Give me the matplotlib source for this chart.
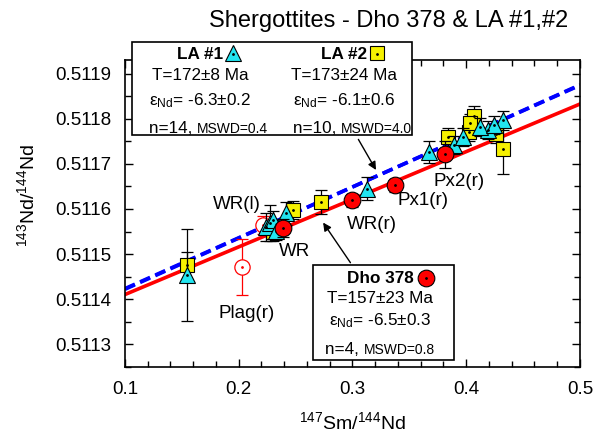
import numpy as np
import matplotlib
matplotlib.use("Agg")
import matplotlib.pyplot as plt
from matplotlib.lines import Line2D
from matplotlib.patches import Rectangle
from matplotlib.ticker import MultipleLocator, FormatStrFormatter

plt.rcParams.update({
    "font.family": ["Liberation Sans", "DejaVu Sans"],
    "mathtext.fontset": "custom",
    "mathtext.rm": "Liberation Sans",
    "mathtext.it": "Liberation Sans:italic",
    "mathtext.bf": "Liberation Sans:bold",
    "axes.linewidth": 1.2,
})

# LA #1 (triangles)
la1_x = [0.1541, 0.2243, 0.2272, 0.2418, 0.3126, 0.3675, 0.3895, 0.3968,
         0.4187, 0.4319, 0.2300, 0.2330, 0.4120, 0.4240]
la1_y = [0.511453, 0.511560, 0.511568, 0.511590, 0.511645, 0.511726, 0.511741,
         0.511759, 0.511774, 0.511796, 0.511575, 0.511552, 0.511782, 0.511786]
la1_err = [0.000102, 0.00003, 0.00004, 0.000025, 0.000025, 0.000025, 0.00002,
           0.00002, 0.00002, 0.00002, 0.00002, 0.00002, 0.00002, 0.00002]

# LA #2 (squares)
la2_x = [0.1541, 0.2298, 0.2477, 0.2725, 0.3836, 0.4026, 0.4070, 0.4260,
         0.4319, 0.4035]
la2_y = [0.511475, 0.511548, 0.511598, 0.511615, 0.511759, 0.511770, 0.511807,
         0.511767, 0.511733, 0.511790]
la2_err = [0.00003, 0.00002, 0.00002, 0.000027, 0.00002, 0.00002, 0.000022,
           0.00002, 0.000055, 0.00002]

# Dho 378 (filled red circles)
dho_labels = ["WR", "WR(r)", "Px1(r)", "Px2(r)"]
dho_x = [0.2386, 0.3000, 0.3377, 0.3816]
dho_y = [0.511557, 0.511619, 0.511652, 0.511721]
dho_err = [0.00002, 0.000015, 0.000015, 0.00003]

# excluded fractions (open red circles)
open_labels = ["WR(l)", "Plag(r)"]
open_x = [0.2210, 0.2025]
open_y = [0.511564, 0.5114715]
open_err = [0.00002, 0.000063]

# isochrons: intercept, slope
iso_la1 = (0.511311, 0.001126)
iso_la2 = (0.511309, 0.001132)
iso_dho = (0.511305, 0.001055)

fig = plt.figure(figsize=(5.94, 4.36), dpi=100)
ax = fig.add_axes([0.2104, 0.1583, 0.7660, 0.7041])

xs = np.array([0.1, 0.5])
ax.plot(xs, iso_dho[0] + iso_dho[1] * xs, color="#ff0000", lw=2.6, zorder=1)
for icpt, slope in (iso_la1, iso_la2):
    ax.plot(xs, icpt + slope * xs, color="#0000ff", lw=2.6, ls=(0, (3, 1.6)), zorder=1.5)

ebar = dict(fmt="none", ecolor="black", elinewidth=0.9, capsize=4, capthick=0.9)
ax.errorbar(la2_x, la2_y, yerr=la2_err, zorder=2, **ebar)
ax.plot(la2_x, la2_y, "s", ms=10, mfc="#f5f000", mec="black", mew=0.8, zorder=3)
ax.plot(la2_x, la2_y, ".", ms=2, color="black", zorder=3.1)
ax.errorbar(la1_x, la1_y, yerr=la1_err, zorder=3.2, **ebar)
ax.plot(la1_x, la1_y, "^", ms=12, mfc="#22e5f0", mec="black", mew=0.8, zorder=4)
ax.plot(la1_x, la1_y, ".", ms=2, color="black", zorder=4.1)
ax.errorbar(open_x, open_y, yerr=open_err, fmt="none", ecolor="#ff0000",
            elinewidth=0.9, capsize=4, capthick=0.9, zorder=2.5)
ax.plot(open_x, open_y, "o", ms=11, mfc="white", mec="#ff0000", mew=0.9, zorder=2.6)
ax.plot(open_x, open_y, ".", ms=2, color="#ff0000", zorder=2.7)
ax.errorbar(dho_x, dho_y, yerr=dho_err, zorder=4.5, **ebar)
ax.plot(dho_x, dho_y, "o", ms=12, mfc="#ff0000", mec="black", mew=0.8, zorder=5)
ax.plot(dho_x, dho_y, ".", ms=2, color="black", zorder=5.1)

lab_fs = 13.5
label_pos = {
    "WR": (0.249, 0.511505),
    "WR(r)": (0.3167, 0.511566),
    "Px1(r)": (0.3617, 0.511619),
    "Px2(r)": (0.3939, 0.511660),
    "WR(l)": (0.198, 0.511610),
    "Plag(r)": (0.2067, 0.511368),
}
for name, (tx, ty) in label_pos.items():
    ax.text(tx, ty, name, fontsize=lab_fs, ha="center", va="center", zorder=6)

ax.set_xlim(0.1, 0.5)
ax.set_ylim(0.51125, 0.51193)
ax.xaxis.set_major_locator(MultipleLocator(0.1))
ax.xaxis.set_minor_locator(MultipleLocator(0.02))
ax.yaxis.set_major_locator(MultipleLocator(0.0001))
ax.yaxis.set_minor_locator(MultipleLocator(0.00005))
ax.xaxis.set_major_formatter(FormatStrFormatter("%.1f"))
ax.yaxis.set_major_formatter(FormatStrFormatter("%.4f"))
ax.tick_params(which="both", direction="in", top=True, right=True,
               labelsize=13.5, width=1.0)
ax.tick_params(which="major", length=6, pad=10)
ax.tick_params(which="minor", length=4)
ax.set_xlabel(r"$^{147}$Sm/$^{144}$Nd", fontsize=14)
ax.set_ylabel(r"$^{143}$Nd/$^{144}$Nd", fontsize=14)
ax.xaxis.set_label_coords(0.5, -0.145)
ax.yaxis.set_label_coords(-0.19, 0.56)

fig.text(0.655, 0.952, "Shergottites - Dho 378 & LA #1,#2", fontsize=17,
         ha="center", va="center")

# LA box
fig.add_artist(Rectangle((0.2217, 0.6904), 0.4714, 0.2140, transform=fig.transFigure,
                         facecolor="white", edgecolor="black", lw=1.2, zorder=10))
box_fs = 12.3
small_fs = 10
for cx, name, mk, mc, T, eps, n, mswd in [
        (0.3367, "LA #1", "^", "#22e5f0", "T=172\u00b18 Ma", "-6.3\u00b10.2", "n=14, ", "MSWD=0.4"),
        (0.5790, "LA #2", "s", "#f5f000", "T=173\u00b124 Ma", "-6.1\u00b10.6", "n=10, ", "MSWD=4.0")]:
    fig.text(cx, 0.874, name, fontsize=box_fs, fontweight="bold", ha="center",
             va="center", zorder=11)
    fig.add_artist(Line2D([cx + 0.055], [0.878], marker=mk, ms=12 if mk == "^" else 10,
                          mfc=mc, mec="black", mew=0.8, transform=fig.transFigure,
                          zorder=11))
    fig.add_artist(Line2D([cx + 0.055], [0.876], marker=".", ms=2, color="black",
                          transform=fig.transFigure, zorder=12))
    fig.text(cx, 0.826, T, fontsize=box_fs, ha="center", va="center", zorder=11)
    fig.text(cx, 0.770, "\u03b5$_{\\mathrm{Nd}}$= " + eps, fontsize=box_fs,
             ha="center", va="center", zorder=11)
    fig.text(cx - 0.005, 0.706, n, fontsize=box_fs, ha="right", va="center", zorder=11)
    fig.text(cx - 0.005, 0.704, mswd, fontsize=small_fs, ha="left", va="center", zorder=11)

# Dho box
fig.add_artist(Rectangle((0.5264, 0.1743), 0.2379, 0.2179, transform=fig.transFigure,
                         facecolor="white", edgecolor="black", lw=1.2, zorder=10))
cx = 0.6397
fig.text(cx, 0.361, "Dho 378", fontsize=box_fs, fontweight="bold", ha="center",
         va="center", zorder=11)
fig.add_artist(Line2D([0.7172], [0.3617], marker="o", ms=12, mfc="#ff0000", mec="black",
                      mew=0.8, transform=fig.transFigure, zorder=11))
fig.add_artist(Line2D([0.7172], [0.3617], marker=".", ms=2, color="black",
                      transform=fig.transFigure, zorder=12))
fig.text(cx, 0.3158, "T=157\u00b123 Ma", fontsize=box_fs, ha="center", va="center", zorder=11)
fig.text(cx, 0.2640, "\u03b5$_{\\mathrm{Nd}}$= -6.5\u00b10.3", fontsize=box_fs,
         ha="center", va="center", zorder=11)
fig.text(cx - 0.027, 0.1995, "n=4, ", fontsize=box_fs, ha="right", va="center", zorder=11)
fig.text(cx - 0.027, 0.1980, "MSWD=0.8", fontsize=small_fs, ha="left", va="center", zorder=11)

# arrows
arrow = dict(arrowstyle="-|>", color="black", lw=1.0, mutation_scale=12)
ax.annotate("", xy=(0.3219, 0.511681), xycoords="data",
            xytext=(0.601, 0.6858), textcoords="figure fraction",
            arrowprops=arrow, zorder=9)
ax.annotate("", xy=(0.2728, 0.511575), xycoords="data",
            xytext=(0.5926, 0.3922), textcoords="figure fraction",
            arrowprops=arrow, zorder=9)

fig.savefig("out.png", dpi=100)
